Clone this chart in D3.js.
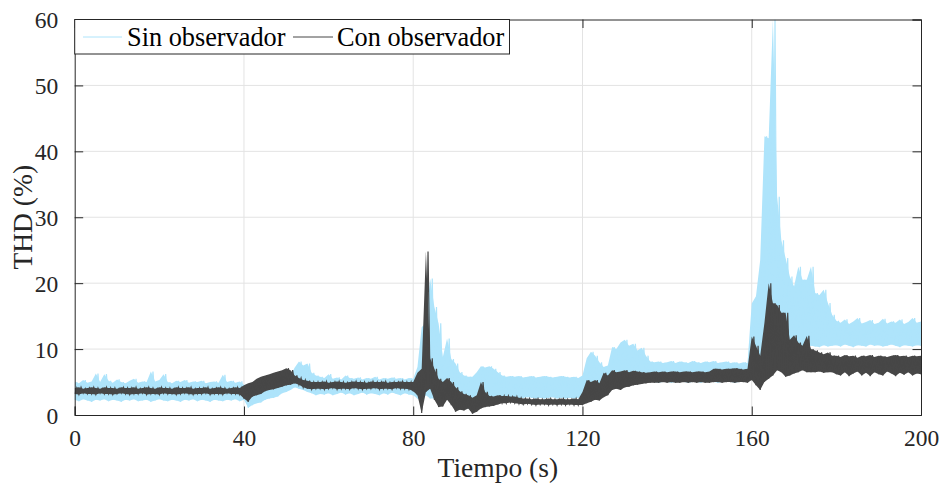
<!DOCTYPE html>
<html><head><meta charset="utf-8">
<script src="https://cdn.jsdelivr.net/npm/d3@7"></script>
<style>body{margin:0;background:#fff}svg{display:block}</style>
</head><body><svg id="c" width="945" height="489"></svg>
<script>
// time in seconds (one sample envelope per second, 0..200)
const time = d3.range(0, 201);
// "Sin observador" envelope (low / high) in %
const sinHi = [
5.0,4.8,5.3,4.9,5.1,6.3,5.0,6.2,5.2,4.9,5.4,5.0,4.8,5.2,5.5,4.9,5.1,5.0,6.6,5.1,
5.3,6.2,5.0,4.8,5.2,5.0,5.3,4.9,5.1,5.0,5.2,4.8,5.0,5.1,4.9,6.1,5.0,5.2,4.9,5.1,
4.6,4.0,4.3,4.6,4.8,5.0,5.1,5.3,5.4,5.6,5.8,6.0,7.2,8.1,7.5,7.8,6.4,6.0,5.8,5.6,
6.2,5.5,5.7,5.4,6.0,5.6,5.5,5.7,5.4,5.6,5.5,5.8,5.4,5.6,5.5,5.7,5.5,5.6,5.4,5.6,
5.5,7.3,13.3,14.0,20.7,16.4,13.9,8.8,11.6,8.5,7.8,6.5,6.0,5.8,5.8,6.5,7.4,7.2,7.4,7.0,
6.5,6.0,5.8,5.9,5.8,5.9,5.7,5.8,5.9,5.7,5.8,5.9,5.8,5.7,5.8,5.9,5.8,5.7,5.8,5.6,
6.0,8.6,9.6,9.0,8.0,7.3,7.5,10.3,10.0,11.0,11.4,10.5,10.8,9.8,10.2,9.0,8.1,8.0,8.1,7.9,
8.0,8.2,7.9,8.1,8.0,7.9,8.2,8.0,7.9,8.1,8.0,8.2,7.9,8.0,8.1,7.9,8.0,7.8,8.0,7.9,
16.9,18.0,23.5,42.3,42.0,60.0,33.1,26.5,23.8,21.0,19.5,22.5,20.5,20.5,22.5,18.5,18.2,19.0,17.0,15.2,
14.3,14.0,14.5,13.8,14.2,14.7,13.9,14.1,14.4,13.8,14.0,14.6,13.9,14.2,14.0,14.5,13.8,14.1,14.7,14.0,
14.2];
const sinLo = [
2.3,2.1,2.4,2.2,2.0,2.3,2.2,2.4,2.1,2.3,2.2,2.0,2.3,2.2,2.4,2.1,2.2,2.3,2.0,2.2,
2.4,2.2,2.1,2.3,2.2,2.0,2.3,2.2,2.4,2.1,2.3,2.2,2.0,2.3,2.2,2.1,2.3,2.2,2.4,2.1,
2.3,1.1,1.5,1.8,1.9,2.3,2.5,2.6,2.8,3.3,3.5,3.8,4.2,4.0,3.8,3.5,3.3,3.0,3.2,3.1,
3.3,3.0,3.2,3.4,3.1,3.3,3.0,3.2,3.4,3.1,3.3,3.2,3.0,3.3,3.1,3.4,3.2,3.0,3.3,3.1,
3.0,2.5,2.0,3.0,2.5,2.5,2.0,1.8,2.5,2.0,1.5,1.2,1.0,1.0,1.0,1.5,1.8,2.0,2.0,2.2,
2.6,2.7,2.6,2.7,2.6,2.5,2.6,2.7,2.6,2.5,2.6,2.5,2.6,2.7,2.5,2.6,2.5,2.6,2.5,2.6,
3.0,3.5,3.8,4.0,4.2,4.5,4.6,5.8,5.8,5.9,5.8,5.7,5.8,5.9,5.8,5.6,5.0,5.0,4.9,5.0,
5.0,4.9,5.0,5.1,5.0,4.9,5.0,5.0,4.9,5.1,5.0,5.0,4.9,5.0,5.1,5.0,4.9,5.0,5.0,5.0,
6.0,7.5,8.0,9.0,9.5,10.0,10.0,10.5,10.0,10.5,10.0,10.2,10.5,10.3,10.5,10.4,10.3,10.6,10.4,10.5,
10.6,10.4,10.7,10.5,10.3,10.6,10.5,10.4,10.7,10.5,10.6,10.4,10.5,10.7,10.5,10.3,10.6,10.5,10.4,10.6,
10.5];
// "Con observador" envelope (low / high) in %
const conLo = [
3.2,3.1,3.3,3.2,3.2,3.1,3.3,3.2,3.2,3.1,3.2,3.3,3.2,3.1,3.2,3.2,3.3,3.1,3.2,3.2,
3.1,3.3,3.2,3.2,3.1,3.2,3.3,3.2,3.1,3.2,3.2,3.3,3.1,3.2,3.2,3.1,3.3,3.2,3.2,3.1,
2.5,2.0,2.8,3.0,3.2,3.6,3.8,3.9,4.1,4.3,4.5,4.6,4.8,4.6,4.2,4.0,3.9,4.0,4.0,3.9,
4.0,4.1,3.9,4.0,4.0,3.9,4.1,4.0,3.9,4.0,4.0,4.1,3.9,4.0,4.0,3.9,4.1,4.0,4.0,3.9,
3.6,3.0,0.3,3.5,4.0,2.3,1.2,1.3,2.3,1.5,0.5,0.8,0.7,1.0,0.2,0.5,1.0,1.2,1.3,1.4,
1.6,1.8,1.8,1.9,1.8,1.7,1.6,1.7,1.6,1.5,1.6,1.6,1.5,1.6,1.5,1.6,1.5,1.6,1.5,1.5,
1.5,1.8,2.0,2.3,2.2,2.7,3.0,3.8,4.0,3.8,4.2,4.3,4.5,4.6,4.7,4.8,4.9,4.9,4.9,5.0,
4.9,5.0,4.9,4.9,5.0,4.9,5.0,4.9,5.0,4.9,4.9,5.0,5.0,4.9,5.0,5.0,4.9,5.0,5.0,4.9,
5.3,4.5,3.8,5.0,5.5,6.0,6.8,6.5,5.8,6.0,6.3,6.5,6.8,6.5,6.5,6.5,6.6,6.4,6.5,6.5,
6.2,6.0,6.5,5.9,6.3,6.6,6.0,6.4,5.9,6.5,6.2,6.0,6.6,6.3,5.9,6.4,6.1,6.5,6.0,6.3,
6.2];
const conHi = [
4.1,4.2,4.0,4.1,4.2,4.1,4.0,4.2,4.1,4.1,4.0,4.2,4.1,4.1,4.2,4.0,4.1,4.2,4.1,4.0,
4.2,4.1,4.1,4.0,4.2,4.1,4.1,4.2,4.0,4.1,4.1,4.2,4.0,4.1,4.2,4.1,4.0,4.1,4.2,4.1,
4.5,4.8,5.0,5.5,5.8,6.0,6.2,6.4,6.6,6.8,7.1,6.8,6.0,5.6,5.3,5.2,5.0,5.0,5.0,5.1,
4.9,5.0,5.1,5.0,4.9,5.0,5.1,5.0,5.0,4.9,5.1,5.0,5.0,5.1,4.9,5.0,5.0,5.1,5.0,5.0,
5.0,6.4,7.0,24.8,8.6,7.0,5.5,5.0,5.6,5.0,4.2,3.6,3.2,3.0,2.6,3.0,5.0,3.5,2.9,2.8,
3.0,2.9,2.9,2.8,2.8,2.6,2.5,2.5,2.4,2.5,2.4,2.4,2.5,2.4,2.4,2.5,2.4,2.4,2.5,2.4,
3.5,5.3,5.0,5.3,4.8,6.4,6.0,6.8,6.5,6.6,6.8,6.5,6.7,6.6,6.5,6.4,6.5,6.6,6.5,6.6,
6.5,6.6,6.6,6.5,6.6,6.6,6.5,6.6,6.6,6.5,6.6,7.0,7.0,6.9,7.0,7.0,7.1,7.0,6.9,7.0,
11.9,10.5,9.0,14.0,20.0,17.0,16.7,15.5,15.5,11.4,12.1,11.0,10.5,12.0,10.0,9.8,9.5,9.2,9.5,9.0,
9.0,8.8,9.1,8.9,9.0,8.7,9.0,8.9,9.1,8.8,9.0,8.9,8.8,9.0,9.1,8.9,9.0,8.8,9.0,8.9,
9.0];
const xTicks = [0, 40, 80, 120, 160, 200];
const yTicks = [0, 10, 20, 30, 40, 50, 60];
const seriesNames = ["Sin observador", "Con observador"];
const seriesColors = ["#aee4fb", "#474747"];

const svg = d3.select("#c");
const m = {l: 74.7, r: 921, t: 19.5, b: 415};
const x = d3.scaleLinear().domain([0, 200]).range([m.l, m.r]);
const y = d3.scaleLinear().domain([0, 60]).range([m.b, m.t]);
const axisCol = "#262626";
const font = "'Liberation Serif','Times New Roman',serif";

// grid
const g = svg.append("g");
g.selectAll(".gx").data(xTicks.slice(1, -1)).join("line")
  .attr("x1", d => x(d)).attr("x2", d => x(d)).attr("y1", m.t).attr("y2", m.b)
  .attr("stroke", "#e3e3e3").attr("stroke-width", 1);
g.selectAll(".gy").data(yTicks.slice(1, -1)).join("line")
  .attr("y1", d => y(d)).attr("y2", d => y(d)).attr("x1", m.l).attr("x2", m.r)
  .attr("stroke", "#e3e3e3").attr("stroke-width", 1);

// data
svg.append("clipPath").attr("id", "clp").append("rect")
  .attr("x", m.l).attr("y", m.t).attr("width", m.r - m.l).attr("height", m.b - m.t);
const plot = svg.append("g").attr("clip-path", "url(#clp)");
function drawSeries(lo, hi, col) {
  const pts = time.map((t, i) => ({t, lo: lo[i], hi: hi[i]}));
  plot.append("path").datum(pts)
    .attr("d", d3.area().x(d => x(d.t)).y0(d => y(d.lo)).y1(d => y(d.hi)))
    .attr("fill", col);
  const zz = [];
  pts.forEach((p, i) => {
    zz.push([p.t, p.lo]);
    if (i < pts.length - 1) zz.push([p.t + 0.5, p.hi]);
  });
  plot.append("path").datum(zz)
    .attr("d", d3.line().x(d => x(d[0])).y(d => y(d[1])))
    .attr("fill", "none").attr("stroke", col).attr("stroke-width", 1.2);
}
drawSeries(sinLo, sinHi, seriesColors[0]);
drawSeries(conLo, conHi, seriesColors[1]);

// axes (MATLAB-style inward ticks, full box)
const tl = 8.5;
const axB = svg.append("g").attr("transform", `translate(0,${m.b})`)
  .call(d3.axisBottom(x).tickValues(xTicks).tickSize(-tl).tickPadding(tl + 6));
const axT = svg.append("g").attr("transform", `translate(0,${m.t})`)
  .call(d3.axisTop(x).tickValues(xTicks).tickSize(-tl).tickFormat(""));
const axL = svg.append("g").attr("transform", `translate(${m.l},0)`)
  .call(d3.axisLeft(y).tickValues(yTicks).tickSize(-tl).tickPadding(tl + 8));
const axR = svg.append("g").attr("transform", `translate(${m.r},0)`)
  .call(d3.axisRight(y).tickValues(yTicks).tickSize(-tl).tickFormat(""));
[axB, axT, axL, axR].forEach(a => {
  a.select(".domain").attr("stroke", axisCol).attr("stroke-width", 1);
  a.selectAll(".tick line").attr("stroke", axisCol).attr("stroke-width", 1);
  a.selectAll("text").attr("fill", axisCol).style("font-family", font).style("font-size", "23.5px");
});
axB.selectAll("text").attr("dy", "0.71em");
axL.selectAll("text").attr("dy", "0.34em");

// labels
svg.append("text").attr("x", (m.l + m.r) / 2).attr("y", 477)
  .attr("text-anchor", "middle").attr("fill", axisCol)
  .style("font-family", font).style("font-size", "27.5px").text("Tiempo (s)");
svg.append("text").attr("transform", `translate(32,${(m.t + m.b) / 2}) rotate(-90)`)
  .attr("text-anchor", "middle").attr("fill", axisCol)
  .style("font-family", font).style("font-size", "27.5px").text("THD (%)");

// legend
const lg = svg.append("g");
lg.append("rect").attr("x", m.l).attr("y", m.t).attr("width", 509.5 - m.l).attr("height", 54 - m.t)
  .attr("fill", "#fff").attr("stroke", axisCol).attr("stroke-width", 1);
const legX = [[83, 122, 127], [293, 333, 337]];
seriesNames.forEach((n, i) => {
  lg.append("line").attr("x1", legX[i][0]).attr("x2", legX[i][1]).attr("y1", 37).attr("y2", 37)
    .attr("stroke", seriesColors[i]).attr("stroke-width", 1);
  lg.append("text").attr("x", legX[i][2]).attr("y", 46).attr("fill", "#000")
    .style("font-family", font).style("font-size", "26.3px").text(n);
});
</script></body></html>
